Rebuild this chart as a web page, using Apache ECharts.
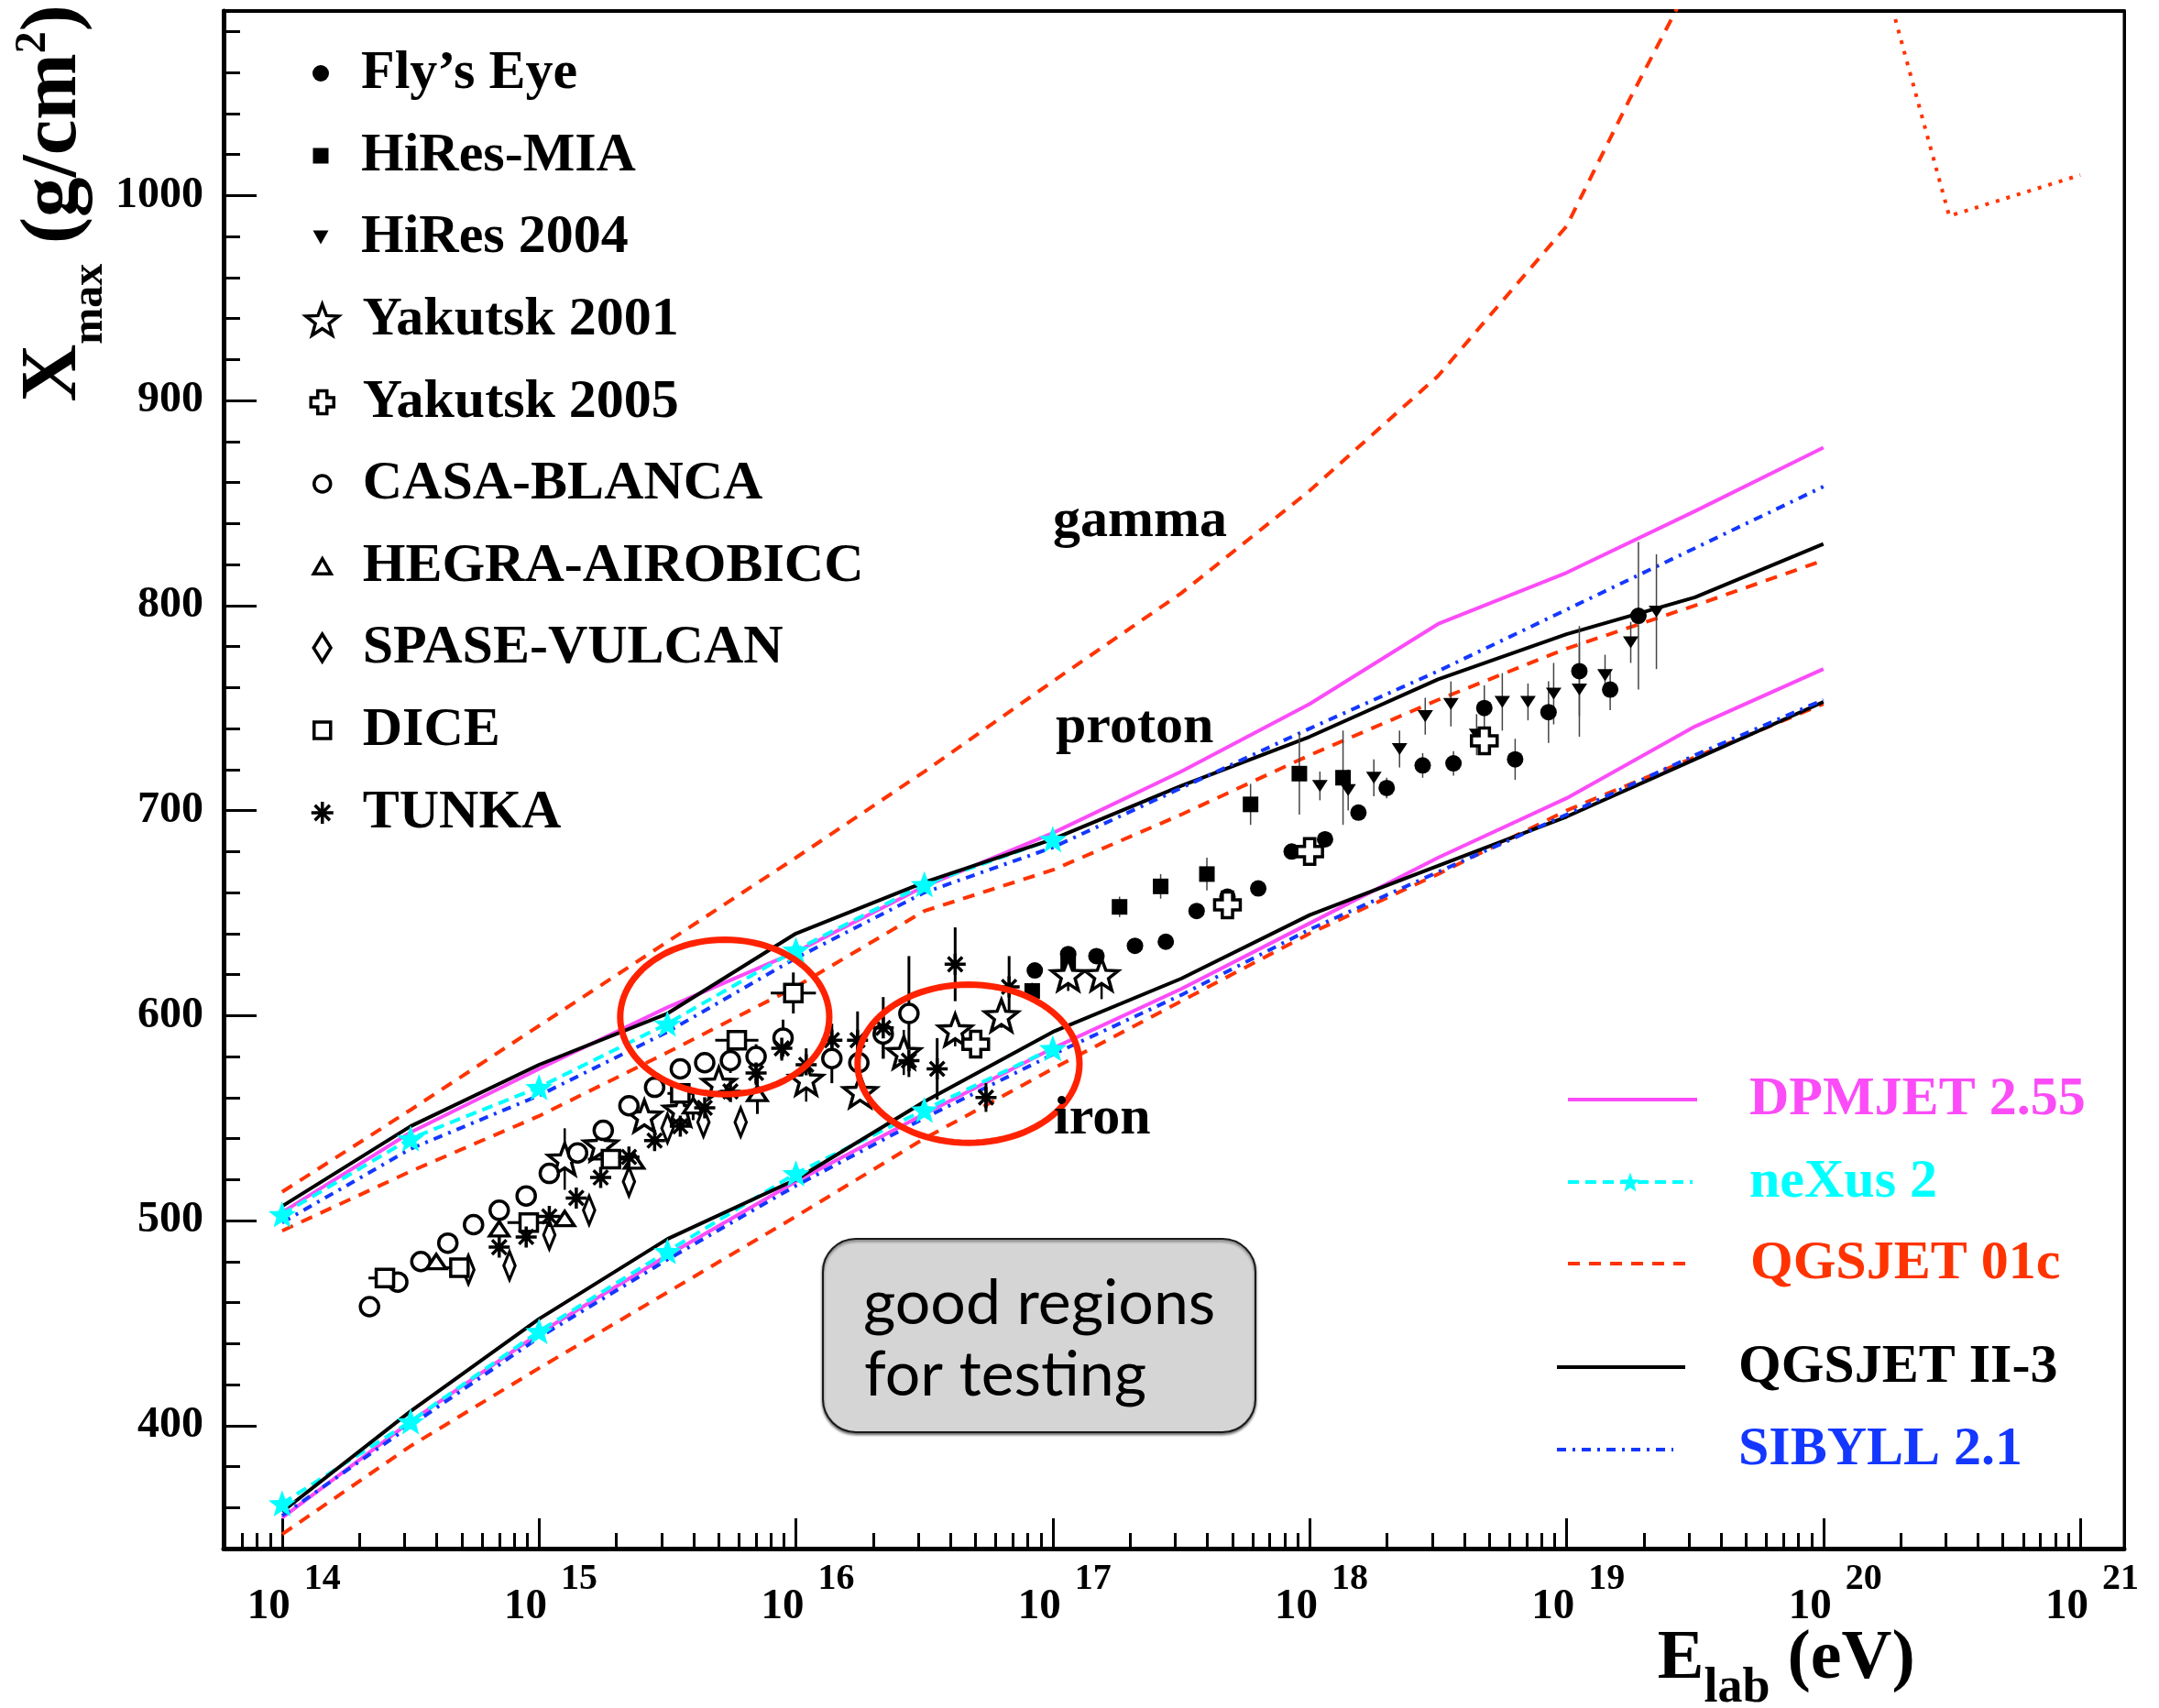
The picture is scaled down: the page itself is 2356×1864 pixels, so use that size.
<!DOCTYPE html>
<html>
<head>
<meta charset="utf-8">
<title>Xmax versus primary energy</title>
<script src="https://cdn.jsdelivr.net/npm/echarts@6/dist/echarts.min.js"></script>
<style>
  html, body { margin: 0; padding: 0; background: #fff; }
  #chart { width: 2356px; height: 1864px; }
</style>
</head>
<body>
<div id="chart"></div>
<script>
// ---------- axes ----------
const X_MIN = 13.772, X_MAX = 21.171;      // log10(E / eV)
const Y_MIN = 340, Y_MAX = 1090;            // g/cm^2
const xDecades = [14, 15, 16, 17, 18, 19, 20, 21];
const yTickValues = [400, 500, 600, 700, 800, 900, 1000];

// ---------- model predictions (log10 E, Xmax) ----------
const modelE   = [14, 14.5, 15, 15.5, 16, 16.5, 17, 17.5, 18, 18.5, 19, 19.5, 20];
const dpmjetP  = [504, 543, 574, 604, 631, 663, 689, 719, 752, 791, 816, 846, 877];
const dpmjetFe = [355, 402, 445, 483, 519, 552, 584, 613, 645, 677, 706, 741, 769];
const nexusE   = [14, 14.5, 15, 15.5, 16, 16.5, 17];
const nexusP   = [503, 540, 565, 596, 632, 664, 686];
const nexusFe  = [362, 402, 446, 485, 523, 554, 584];
const qgs01P   = [495, 524, 551, 582, 614, 651, 671, 698, 727, 754, 779, 800, 822];
const qgs01Fe  = [347, 390, 428, 465, 502, 540, 574, 607, 640, 669, 700, 726, 752];
const gammaE   = [14, 14.5, 15, 15.5, 16, 16.5, 17, 17.5, 18, 18.5, 19, 19.25, 19.5];
const gammaX   = [514, 554, 595, 636, 677, 719, 763, 806, 856, 912, 985, 1048, 1108];
const gammaHiE = [20.28, 20.49, 21.0];
const gammaHiX = [1086, 990, 1010];
const qgsIIP   = [507, 546, 576, 601, 640, 665, 686, 712, 736, 764, 786, 804, 830];
const qgsIIFe  = [358, 407, 452, 491, 520, 558, 592, 618, 649, 673, 697, 725, 753];
const sibyllP  = [499, 535, 561, 592, 628, 660, 682, 711, 740, 768, 798, 828, 858];
const sibyllFe = [356, 400, 443, 481, 517, 550, 581, 610, 642, 670, 698, 727, 754];

// ---------- measurements (log10 E, Xmax, error) ----------
const flyE   = [16.93, 17.06, 17.17, 17.32, 17.44, 17.56, 17.68, 17.80, 17.93, 18.06, 18.19, 18.30, 18.44, 18.56, 18.68, 18.80, 18.93, 19.05, 19.17, 19.28];
const flyX   = [622, 630, 629, 634, 636, 651, 658, 662, 680, 686, 699, 711, 722, 723, 750, 725, 748, 768, 759, 795];
const flyErr = [0, 0, 0, 0, 0, 0, 0, 0, 0, 4, 0, 5, 6, 6, 11, 10, 15, 22, 10, 36];

const miaE   = [16.92, 17.06, 17.26, 17.42, 17.60, 17.77, 17.96, 18.13];
const miaX   = [612, 626, 653, 663, 669, 703, 718, 716];
const miaErr = [4, 0, 5, 6, 8, 10, 20, 23];

const hiresE   = [18.04, 18.15, 18.25, 18.35, 18.45, 18.55, 18.65, 18.75, 18.85, 18.95, 19.05, 19.15, 19.25, 19.35];
const hiresX   = [712, 710, 716, 730, 746, 752, 737, 753, 753, 757, 759, 766, 782, 797];
const hiresErr = [7, 10, 9, 9, 9, 11, 10, 14, 9, 15, 23, 10, 10, 28];

const yak01E   = [15.10, 15.24, 15.41, 15.55, 15.70, 16.04, 16.25, 16.42, 16.62, 16.80, 17.06, 17.19];
const yak01X   = [530, 537, 551, 554, 567, 569, 563, 582, 593, 600, 620, 620];
const yak01Err = [15, 6, 0, 0, 0, 11, 0, 11, 8, 6, 8, 12];

const yak05E = [16.70, 17.68, 18.00, 18.68];
const yak05X = [586, 654, 680, 734];

const casaE   = [14.34, 14.45, 14.54, 14.645, 14.745, 14.845, 14.95, 15.04, 15.15, 15.25, 15.35, 15.45, 15.55, 15.645, 15.745, 15.845, 15.95, 16.14, 16.245, 16.34, 16.44];
const casaX   = [458, 470, 480, 489, 498, 505, 512, 523, 533, 544, 556, 565, 574, 577, 578, 580, 589, 579, 577, 591, 601];
const casaErr = [0, 0, 0, 0, 0, 3, 0, 0, 0, 0, 0, 0, 5, 5, 6, 6, 9, 12, 7, 12, 28];

const hegraE   = [14.60, 14.845, 15.10, 15.37, 15.60, 15.85];
const hegraX   = [480, 496, 501, 529, 556, 562];
const hegraErr = [0, 0, 0, 0, 7, 10];

const spaseE = [14.725, 14.885, 15.04, 15.195, 15.35, 15.50, 15.64, 15.785];
const spaseX = [476, 478, 493, 505, 519, 545, 548, 548];

const diceE    = [14.40, 14.69, 14.96, 15.28, 15.55, 15.77, 15.99];
const diceX    = [472, 477, 499, 530, 562, 588, 611];
const diceErr  = [0, 0, 0, 0, 0, 5, 10];
const diceEErr = [0.064, 0.056, 0.083, 0.09, 0.05, 0.084, 0.088];

const tunkaE   = [14.845, 14.95, 15.04, 15.145, 15.24, 15.35, 15.45, 15.55, 15.645, 15.745, 15.845, 15.945, 16.04, 16.14, 16.24, 16.34, 16.44, 16.55, 16.62, 16.74, 16.83];
const tunkaX   = [487, 492, 502, 511, 521, 531, 539, 546, 555, 563, 572, 584, 576, 588, 588, 594, 578, 574, 625, 560, 614];
const tunkaErr = [0, 0, 0, 0, 0, 0, 0, 0, 0, 0, 6, 6, 8, 8, 14, 15, 8, 15, 18, 7, 15];

// highlighted energy windows: centre (log10 E, Xmax) and half-axes
const regionE  = [15.723, 16.672];
const regionX  = [599.3, 576.5];
const regionRE = [0.407, 0.432];
const regionRX = [37.7, 38.6];

// ---------- styling ----------
const FONT = '"Liberation Serif", "Times New Roman", Times, serif';
const MAGENTA = '#fb4cf8', CYAN = '#00ffff', RED = '#ff3300', BLUE = '#1437ff';
const OUTLINE = 3.5;

const SYM = {
  star:    'path://M100,0 L124.7,66 L195.1,69.1 L139.9,113 L158.8,180.9 L100,142 L41.2,180.9 L60.1,113 L4.9,69.1 L75.3,66 Z',
  cross:   'path://M3,0 L7,0 L7,3 L10,3 L10,7 L7,7 L7,10 L3,10 L3,7 L0,7 L0,3 L3,3 Z',
  square:  'path://M0,0 L10,0 L10,10 L0,10 Z',
  triUp:   'path://M5,0 L10,8.7 L0,8.7 Z',
  triDown: 'path://M0,0 L10,0 L5,8.7 Z',
  diamond: 'path://M5,0 L10,8 L5,16 L0,8 Z',
  aster:   'path://M5,0 L5,10 M0,5 L10,5 M1.6,1.6 L8.4,8.4 M8.4,1.6 L1.6,8.4'
};

const xMinorTicks = [];
for (let d = 13; d <= 21; d++) {
  for (let k = 2; k <= 9; k++) {
    const v = d + Math.log10(k);
    if (v > X_MIN && v < X_MAX) xMinorTicks.push(v);
  }
}
const yMinorTicks = [];
for (let v = 360; v < Y_MAX; v += 20) if (v % 100 !== 0) yMinorTicks.push(v);

const pairs = (E, X) => E.map((e, i) => [e, X[i]]);

function curve(name, E, X, color, dash, extra) {
  return Object.assign({
    type: 'line', name: name, data: pairs(E, X),
    symbol: 'none', clip: true, z: 2, silent: true,
    lineStyle: { color: color, width: 4, type: dash },
    itemStyle: { color: color }
  }, extra || {});
}

function points(name, E, X, symbol, size, filled) {
  return {
    type: 'scatter', name: name, data: pairs(E, X),
    symbol: symbol, symbolSize: size, symbolKeepAspect: true, z: 5, silent: true,
    itemStyle: filled ? { color: '#000', borderWidth: 0, opacity: 1 }
                      : { color: '#fff', borderColor: '#000', borderWidth: OUTLINE, opacity: 1 }
  };
}

function errorBars(E, X, dX, dE, width, color) {
  const data = [];
  E.forEach((e, i) => {
    const ex = dX ? dX[i] : 0, ee = dE ? dE[i] : 0;
    if (ex > 0 || ee > 0) data.push([e, X[i], ex, ee]);
  });
  return {
    type: 'custom', data: data, z: 4, silent: true, clip: true,
    encode: { x: 0, y: 1 },
    renderItem: function (params, api) {
      const e = api.value(0), x = api.value(1), dx = api.value(2), de = api.value(3);
      const kids = [];
      const st = { stroke: color, lineWidth: width };
      if (dx > 0) {
        const a = api.coord([e, x - dx]), b = api.coord([e, x + dx]);
        kids.push({ type: 'line', shape: { x1: a[0], y1: a[1], x2: b[0], y2: b[1] }, style: st });
      }
      if (de > 0) {
        const a = api.coord([e - de, x]), b = api.coord([e + de, x]);
        kids.push({ type: 'line', shape: { x1: a[0], y1: a[1], x2: b[0], y2: b[1] }, style: st });
      }
      return { type: 'group', children: kids };
    }
  };
}

const regions = {
  type: 'custom', z: 10, silent: true, clip: false,
  data: regionE.map((e, i) => [e, regionX[i], regionRE[i], regionRX[i]]),
  encode: { x: 0, y: 1 },
  renderItem: function (params, api) {
    const c = api.coord([api.value(0), api.value(1)]);
    const r = api.size([api.value(2), api.value(3)]);
    const pts = [];
    for (let k = 0; k < 96; k++) {
      const t = k / 96 * Math.PI * 2;
      pts.push([c[0] + r[0] * Math.cos(t), c[1] + r[1] * Math.sin(t)]);
    }
    return { type: 'polygon', shape: { points: pts },
             style: { fill: 'none', stroke: '#ff2200', lineWidth: 7 } };
  }
};

const series = [
  curve('DPMJET 2.55', modelE, dpmjetP, MAGENTA, 'solid'),
  curve('DPMJET 2.55', modelE, dpmjetFe, MAGENTA, 'solid'),
  curve('neXus 2', nexusE, nexusP, CYAN, [12, 7], { symbol: SYM.star, symbolSize: 30, showSymbol: true, symbolKeepAspect: true, itemStyle: { color: CYAN, opacity: 1 } }),
  curve('neXus 2', nexusE, nexusFe, CYAN, [12, 7], { symbol: SYM.star, symbolSize: 30, showSymbol: true, symbolKeepAspect: true, itemStyle: { color: CYAN, opacity: 1 } }),
  curve('QGSJET 01c', modelE, qgs01P, RED, [13, 10]),
  curve('QGSJET 01c', modelE, qgs01Fe, RED, [13, 10]),
  curve('QGSJET 01c', gammaE, gammaX, RED, [13, 10]),
  curve('QGSJET 01c', gammaHiE, gammaHiX, RED, [4, 8]),
  curve('QGSJET II-3', modelE, qgsIIP, '#000', 'solid'),
  curve('QGSJET II-3', modelE, qgsIIFe, '#000', 'solid'),
  curve('SIBYLL 2.1', modelE, sibyllP, BLUE, [10, 7, 3, 7]),
  curve('SIBYLL 2.1', modelE, sibyllFe, BLUE, [10, 7, 3, 7]),

  errorBars(flyE, flyX, flyErr, null, 1.5, '#444'),
  errorBars(miaE, miaX, miaErr, null, 1.5, '#444'),
  errorBars(hiresE, hiresX, hiresErr, null, 1.5, '#444'),
  errorBars(yak01E, yak01X, yak01Err, null, 2.5, '#000'),
  errorBars(casaE, casaX, casaErr, null, 3, '#000'),
  errorBars(hegraE, hegraX, hegraErr, null, 3, '#000'),
  errorBars(diceE, diceX, diceErr, diceEErr, 3, '#000'),
  errorBars(tunkaE, tunkaX, tunkaErr, null, 3, '#000'),

  points("Fly\u2019s Eye", flyE, flyX, 'circle', 18, true),
  points('HiRes-MIA', miaE, miaX, SYM.square, 17, true),
  points('HiRes 2004', hiresE, hiresX, SYM.triDown, [17, 15], true),
  points('Yakutsk 2001', yak01E, yak01X, SYM.star, 36, false),
  points('Yakutsk 2005', yak05E, yak05X, SYM.cross, 28, false),
  points('CASA-BLANCA', casaE, casaX, 'circle', 20, false),
  points('HEGRA-AIROBICC', hegraE, hegraX, SYM.triUp, [21, 18], false),
  points('SPASE-VULCAN', spaseE, spaseX, SYM.diamond, [20, 31], false),
  points('DICE', diceE, diceX, SYM.square, 19, false),
  points('TUNKA', tunkaE, tunkaX, SYM.aster, 23, false),
  regions
];
// asterisks are drawn by their outline only
series[series.length - 2].itemStyle = { color: '#000', borderColor: '#000', borderWidth: OUTLINE, opacity: 1 };

// ---------- legends ----------
const legendText = { fontFamily: FONT, fontWeight: 'bold', fontSize: 60, lineHeight: 62, color: '#000' };
const MARK_X = 350, LABEL_X = 394;   // marker centre and label start of the measurement key
// name, row centre, icon width, icon height, outline width
const expRows = [
  ["Fly\u2019s Eye", 80, 18, 18, 0], ['HiRes-MIA', 170, 17, 17, 0], ['HiRes 2004', 259, 17, 15, 0],
  ['Yakutsk 2001', 349, 36, 34, OUTLINE], ['Yakutsk 2005', 439, 25, 25, OUTLINE], ['CASA-BLANCA', 528, 18, 18, OUTLINE],
  ['HEGRA-AIROBICC', 618, 19, 17, OUTLINE], ['SPASE-VULCAN', 707, 19, 30, OUTLINE], ['DICE', 797, 18, 18, OUTLINE], ['TUNKA', 887, 24, 24, OUTLINE]
];
// name, row centre, line start, line length, label gap, colour
const modelRows = [
  ['DPMJET 2.55', 1200, 1709, 141, 52, MAGENTA],
  ['neXus 2', 1290, 1709, 136, 57, CYAN],
  ['QGSJET 01c', 1379, 1709, 136, 58, RED],
  ['QGSJET II-3', 1492, 1697, 140, 53, '#000'],
  ['SIBYLL 2.1', 1582, 1697, 127, 66, BLUE]
];
const legends = [];
expRows.forEach(r => legends.push({
  data: [r[0]], left: MARK_X - r[2] / 2, top: r[1] - 31, orient: 'vertical', padding: 0, itemGap: 0,
  itemWidth: r[2], itemHeight: r[3], selectedMode: false,
  itemStyle: { borderWidth: r[4] },
  textStyle: Object.assign({}, legendText, { padding: [0, 0, 0, LABEL_X - MARK_X - r[2] / 2 - 5] })
}));
modelRows.forEach(r => legends.push({
  data: [r[0]], left: r[2], top: r[1] - 31, orient: 'vertical', padding: 0, itemGap: 0,
  itemWidth: r[3], itemHeight: 26, selectedMode: false,
  lineStyle: { width: 4 },
  itemStyle: r[0] === 'neXus 2' ? { color: CYAN } : { color: 'rgba(0,0,0,0)', borderWidth: 0 },
  textStyle: Object.assign({}, legendText, { color: r[5], padding: [0, 0, 0, r[4]] })
}));

// ---------- axes ----------
const xAxes = [
  {
    type: 'value', min: X_MIN, max: X_MAX, position: 'bottom',
    axisLine: { show: true, onZero: false, lineStyle: { color: '#000', width: 5 } },
    axisTick: { show: true, inside: true, length: 33, customValues: xDecades, lineStyle: { color: '#000', width: 3 } },
    axisLabel: {
      show: true, customValues: xDecades, margin: 14, padding: [0, 0, 0, 26],
      formatter: v => '{b|10}{s|' + v + '}{h| }',
      rich: {
        b: { fontFamily: FONT, fontWeight: 'bold', fontSize: 47, lineHeight: 47, verticalAlign: 'bottom', color: '#000' },
        s: { fontFamily: FONT, fontWeight: 'bold', fontSize: 40, lineHeight: 40, verticalAlign: 'top', padding: [0, 0, 0, 15], color: '#000' },
        h: { fontSize: 1, lineHeight: 73 }
      }
    },
    splitLine: { show: false }
  },
  {
    type: 'value', min: X_MIN, max: X_MAX, position: 'bottom',
    axisLine: { show: false },
    axisTick: { show: true, inside: true, length: 17, customValues: xMinorTicks, lineStyle: { color: '#000', width: 3 } },
    axisLabel: { show: false }, splitLine: { show: false }
  },
  {
    type: 'value', min: X_MIN, max: X_MAX, position: 'top',
    axisLine: { show: true, lineStyle: { color: '#000', width: 4 } },
    axisTick: { show: false }, axisLabel: { show: false }, splitLine: { show: false }
  }
];
const yAxes = [
  {
    type: 'value', min: Y_MIN, max: Y_MAX, position: 'left',
    axisLine: { show: true, onZero: false, lineStyle: { color: '#000', width: 5 } },
    axisTick: { show: true, inside: true, length: 36, customValues: yTickValues, lineStyle: { color: '#000', width: 3 } },
    axisLabel: { show: true, customValues: yTickValues, margin: 22, formatter: v => String(v),
                 fontFamily: FONT, fontWeight: 'bold', fontSize: 48, color: '#000' },
    splitLine: { show: false }
  },
  {
    type: 'value', min: Y_MIN, max: Y_MAX, position: 'left',
    axisLine: { show: false },
    axisTick: { show: true, inside: true, length: 18, customValues: yMinorTicks, lineStyle: { color: '#000', width: 3 } },
    axisLabel: { show: false }, splitLine: { show: false }
  },
  {
    type: 'value', min: Y_MIN, max: Y_MAX, position: 'right',
    axisLine: { show: true, lineStyle: { color: '#000', width: 3 } },
    axisTick: { show: false }, axisLabel: { show: false }, splitLine: { show: false }
  }
];

// ---------- annotations ----------
const bold = (size) => ({ fontFamily: FONT, fontWeight: 'bold', fontSize: size, fill: '#000' });
const graphic = [
  { type: 'text', x: 68, y: 5, rotation: Math.PI / 2, z: 20,
    style: {
      text: '{m|X}{sub|max}{m| (g/cm}{sup|2}{m|)}{h| }', align: 'right', verticalAlign: 'middle',
      rich: {
        m:   Object.assign(bold(87), { lineHeight: 87, verticalAlign: 'top', padding: [3, 0, 0, 0] }),
        sub: Object.assign(bold(48), { lineHeight: 48, verticalAlign: 'bottom' }),
        sup: Object.assign(bold(48), { lineHeight: 48, verticalAlign: 'top' }),
        h:   { fontSize: 1, lineHeight: 110 }
      }
    } },
  { type: 'text', x: 2090, y: 1773, z: 20,
    style: {
      text: '{m|E}{sub|lab}{m| (eV)}{h| }', align: 'right', verticalAlign: 'top',
      rich: {
        m:   Object.assign(bold(76), { lineHeight: 76, verticalAlign: 'top' }),
        sub: Object.assign(bold(54), { lineHeight: 54, verticalAlign: 'bottom' }),
        h:   { fontSize: 1, lineHeight: 97 }
      }
    } },
  { type: 'text', x: 1149, y: 569, z: 20, style: Object.assign(bold(60), { text: 'gamma', align: 'left', verticalAlign: 'middle' }) },
  { type: 'text', x: 1152, y: 794, z: 20, style: Object.assign(bold(60), { text: 'proton', align: 'left', verticalAlign: 'middle' }) },
  { type: 'text', x: 1150, y: 1221, z: 20, style: Object.assign(bold(60), { text: 'iron', align: 'left', verticalAlign: 'middle' }) },
  { type: 'rect', z: 20, shape: { x: 898, y: 1352, width: 472, height: 211, r: 36 },
    style: { fill: '#d5d5d5', stroke: '#1a1a1a', lineWidth: 2,
             shadowBlur: 3, shadowOffsetY: 2, shadowColor: 'rgba(0,0,0,0.55)' } },
  { type: 'text', x: 942, y: 1423, z: 21,
    style: { text: 'good regions', fontFamily: 'Lato, "Open Sans", sans-serif', fontSize: 68, fill: '#000', align: 'left', verticalAlign: 'middle' } },
  { type: 'text', x: 943, y: 1501, z: 21,
    style: { text: 'for testing', fontFamily: 'Lato, "Open Sans", sans-serif', fontSize: 68, fill: '#000', align: 'left', verticalAlign: 'middle' } }
];

const option = {
  animation: false,
  backgroundColor: '#fff',
  textStyle: { fontFamily: FONT },
  grid: { left: 244, right: 38, top: 12, bottom: 174, show: true, borderColor: '#000', borderWidth: 3,
          containLabel: false, outerBoundsMode: 'none' },
  xAxis: xAxes,
  yAxis: yAxes,
  legend: legends,
  series: series,
  graphic: graphic
};

const chart = echarts.init(document.getElementById('chart'), null, { renderer: 'canvas' });
chart.setOption(option);
</script>
</body>
</html>
